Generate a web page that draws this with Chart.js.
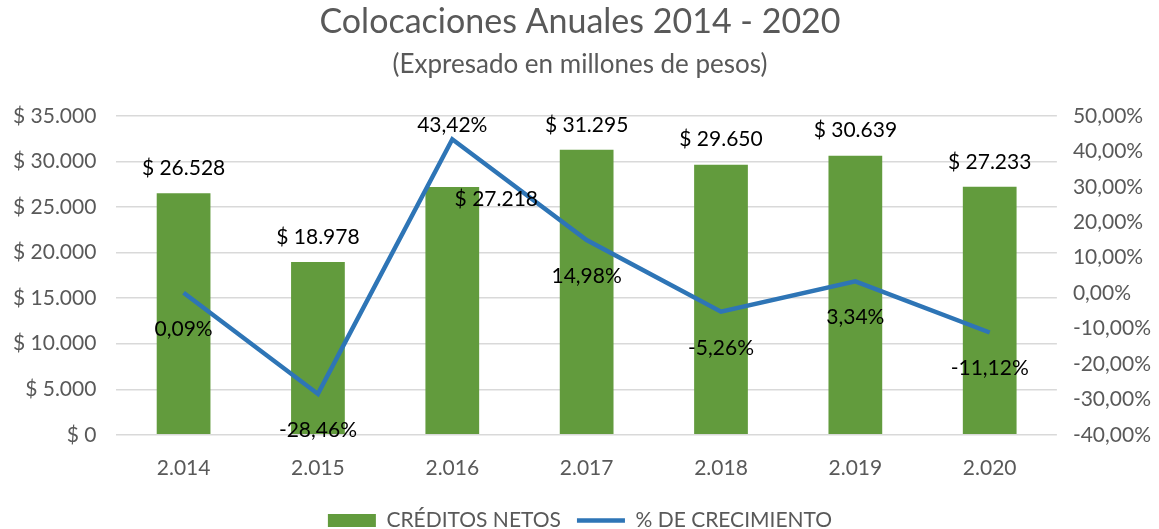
<!DOCTYPE html>
<html>
<head>
<meta charset="utf-8">
<script src="https://cdn.jsdelivr.net/npm/chart.js@4"></script>
<style>
  html, body { margin: 0; padding: 0; background: #fff; }
  #wrap { width: 1159px; height: 529px; }
</style>
</head>
<body>
<div id="wrap"><canvas id="chart"></canvas></div>
<script>
const years = ["2.014", "2.015", "2.016", "2.017", "2.018", "2.019", "2.020"];
const creditos = [26528, 18978, 27218, 31295, 29650, 30639, 27233];
const crecimiento = [0.09, -28.46, 43.42, 14.98, -5.26, 3.34, -11.12];

const FONT = "Lato, 'Open Sans', sans-serif";
const GRAY = "#595959";

const fmtPesos = v => "$ " + Math.round(v).toLocaleString("de-DE");
const fmtPct = v => v.toFixed(2).replace(".", ",") + "%";

// draw value labels like excel data labels
const labelPlugin = {
    id: "valueLabels",
    afterDatasetsDraw(chart) {
        const ctx = chart.ctx;
        ctx.save();
        ctx.font = "21px " + FONT;
        ctx.fillStyle = "#000";
        ctx.textAlign = "center";
        ctx.textBaseline = "middle";
        // dataset 1 = bars, dataset 0 = line
        chart.getDatasetMeta(1).data.forEach((bar, i) => {
            let dx = 0, dy = -25;
            if (i === 2) { dx = 44; dy = 12; }  // moved label in original
            ctx.fillText(fmtPesos(creditos[i]), bar.x + dx, bar.y + dy);
        });
        chart.getDatasetMeta(0).data.forEach((pt, i) => {
            let dy = i === 2 ? -14 : 36;
            ctx.fillText(fmtPct(crecimiento[i]), pt.x, pt.y + dy);
        });
        ctx.restore();
    }
};

new Chart(document.getElementById("chart"), {
    data: {
        labels: years,
        datasets: [
            {
                type: "line",
                label: "% DE CRECIMIENTO",
                data: crecimiento,
                yAxisID: "y1",
                borderColor: "#2E75B6",
                backgroundColor: "#2E75B6",
                borderWidth: 4.5,
                pointRadius: 0,
                tension: 0,
                pointStyle: "line",
                order: 0
            },
            {
                type: "bar",
                label: "CRÉDITOS NETOS",
                data: creditos,
                yAxisID: "y",
                backgroundColor: "#629B3D",
                borderWidth: 0,
                categoryPercentage: 1,
                barPercentage: 0.4,
                pointStyle: "rect",
                order: 1
            }
        ]
    },
    options: {
        responsive: true,
        maintainAspectRatio: false,
        animation: false,
        layout: { padding: { left: -7, right: -8, top: 0, bottom: -12 } },
        scales: {
            x: {
                grid: { display: false },
                border: { display: false },
                ticks: { color: GRAY, font: { family: FONT, size: 21 }, padding: 13 }
            },
            y: {
                position: "left",
                min: 0,
                max: 35000,
                ticks: {
                    stepSize: 5000,
                    color: GRAY,
                    font: { family: FONT, size: 21 },
                    padding: 20,
                    callback: v => fmtPesos(v)
                },
                grid: { color: "#D9D9D9", lineWidth: 1.5, drawTicks: false },
                border: { display: false }
            },
            y1: {
                position: "right",
                min: -40,
                max: 50,
                ticks: {
                    stepSize: 10,
                    color: GRAY,
                    font: { family: FONT, size: 21 },
                    padding: 16,
                    callback: v => fmtPct(v)
                },
                grid: { drawOnChartArea: false, drawTicks: false },
                border: { display: false }
            }
        },
        plugins: {
            title: {
                display: true,
                text: "Colocaciones Anuales 2014 - 2020",
                color: GRAY,
                font: { family: FONT, size: 34, weight: "normal" },
                padding: { top: 2, bottom: 6 }
            },
            subtitle: {
                display: true,
                text: "(Expresado en millones de pesos)",
                color: GRAY,
                font: { family: FONT, size: 26, weight: "normal" },
                padding: { bottom: 36 }
            },
            legend: {
                position: "bottom",
                reverse: true,
                labels: {
                    color: GRAY,
                    font: { family: FONT, size: 21 },
                    usePointStyle: true,
                    pointStyleWidth: 48,
                    boxHeight: 13,
                    padding: 16
                }
            },
            tooltip: { enabled: false }
        }
    },
    plugins: [labelPlugin]
});
</script>
</body>
</html>
